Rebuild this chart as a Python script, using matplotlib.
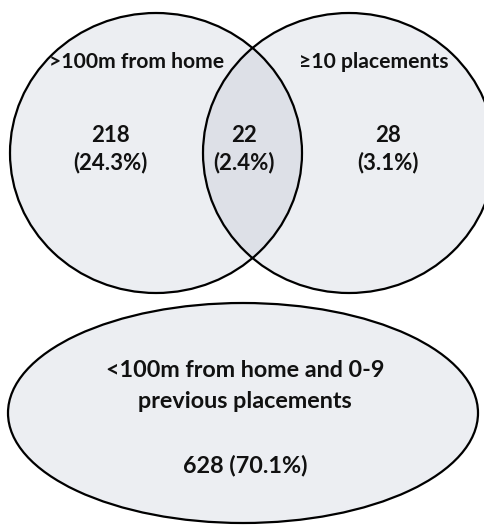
import matplotlib
matplotlib.use("Agg")
from matplotlib import pyplot as plt
from matplotlib.patches import Ellipse

set_names = [">100m from home", "\u226510 placements"]
region_counts = [218, 22, 28]
region_pcts = [24.3, 2.4, 3.1]
rest_label = "<100m from home and 0-9\nprevious placements"
rest_count = 628
rest_pct = 70.1

fill = "#eceef2"
overlap_fill = "#dde0e7"
font = dict(family="Lato", weight="bold", color="#111111")

fig = plt.figure(figsize=(4.84, 5.27), dpi=100)
ax = fig.add_axes([0, 0, 1, 1])
ax.set_xlim(0, 484)
ax.set_ylim(527, 0)
ax.axis("off")

left = Ellipse((156, 153), 292, 280, facecolor=fill, edgecolor="none")
right = Ellipse((349, 153), 292, 280, facecolor=fill, edgecolor="none")
ax.add_patch(left)
ax.add_patch(right)

# overlap: right circle clipped by left one
overlap = Ellipse((349, 153), 292, 280, facecolor=overlap_fill, edgecolor="none")
ax.add_patch(overlap)
overlap.set_clip_path(left)

for cx in [156, 349]:
    ax.add_patch(Ellipse((cx, 153), 292, 280, facecolor="none", edgecolor="black", lw=1.6))

ax.add_patch(Ellipse((243, 413), 470, 220, facecolor=fill, edgecolor="black", lw=1.6))

ax.text(137, 62, set_names[0], ha="center", va="center", fontsize=15.2, **font)
ax.text(374, 62, set_names[1], ha="center", va="center", fontsize=15.2, **font)

xs = [110, 244, 388]
for x, n, p in zip(xs, region_counts, region_pcts):
    ax.text(x, 136, str(n), ha="center", va="center", fontsize=16, **font)
    ax.text(x, 163, "(%.1f%%)" % p, ha="center", va="center", fontsize=16, **font)

ax.text(245, 386, rest_label, ha="center", va="center", fontsize=16.8,
        linespacing=1.55, **font)
ax.text(245, 465, "%d (%.1f%%)" % (rest_count, rest_pct), ha="center", va="center",
        fontsize=16.8, **font)

fig.savefig("out.png", dpi=100, facecolor="white")
